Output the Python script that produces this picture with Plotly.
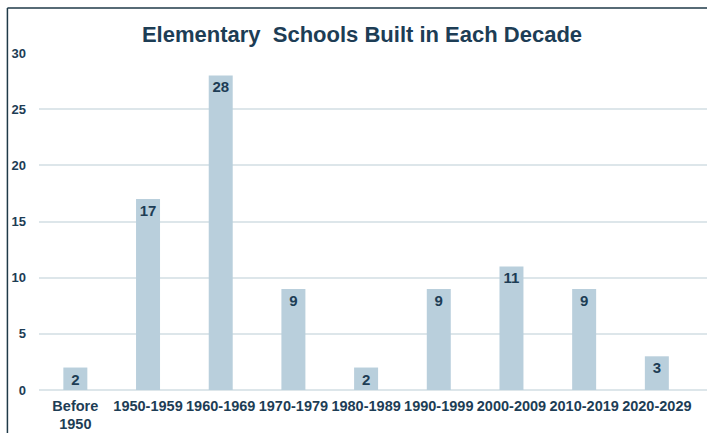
import plotly.graph_objects as go

categories = ["Before<br>1950", "1950-1959", "1960-1969", "1970-1979", "1980-1989",
              "1990-1999", "2000-2009", "2010-2019", "2020-2029"]
schools_built = [2, 17, 28, 9, 2, 9, 11, 9, 3]
y_ticks = [0, 5, 10, 15, 20, 25, 30]

navy = "#1d3d55"
bar_color = "#b9cfdc"

W, H = 707, 433
ml, mr, mt, mb = 38.6, 0, 53, 43
pw = W - ml - mr
ph = H - mt - mb

fig = go.Figure(go.Bar(
    x=list(range(len(categories))),
    y=schools_built,
    text=[str(v) for v in schools_built],
    textposition="inside",
    insidetextanchor="end",
    textangle=0,
    textfont=dict(family="Liberation Sans, Arial", size=15, color=navy, weight="bold"),
    marker=dict(color=bar_color, line=dict(width=0)),
    width=0.33,
    cliponaxis=False,
    hoverinfo="skip",
))

def px_x(p):
    return (p - ml) / pw

def px_y(p):
    return (H - mb - p) / ph

fig.update_layout(
    width=W, height=H,
    margin=dict(l=ml, r=mr, t=mt, b=mb, pad=0),
    paper_bgcolor="white", plot_bgcolor="white",
    showlegend=False,
    uniformtext=dict(minsize=15, mode="show"),
    title=dict(text="<b>Elementary  Schools Built in Each Decade</b>",
               x=362 / W, xanchor="center",
               y=1 - 34 / H, yanchor="middle",
               font=dict(family="Liberation Sans, Arial", size=22, color=navy)),
    xaxis=dict(
        range=[-0.5, 8.69],
        tickvals=list(range(len(categories))),
        ticktext=categories,
        showgrid=False, zeroline=False, showline=False,
        ticks="", ticklabelstandoff=5,
        tickfont=dict(family="Liberation Sans, Arial", size=14.5, color=navy, weight="bold"),
    ),
    yaxis=dict(
        range=[0, 30],
        tickvals=y_ticks,
        showgrid=True, gridcolor="#dde6ea", gridwidth=1.5,
        zeroline=True, zerolinecolor="#dde6ea", zerolinewidth=1.5,
        showline=False, ticks="",
        ticklabelstandoff=12,
        tickfont=dict(family="Liberation Sans, Arial", size=13, color=navy, weight="bold"),
    ),
    shapes=[
        dict(type="line", xref="paper", yref="paper",
             x0=px_x(7), x1=px_x(707), y0=px_y(8), y1=px_y(8),
             line=dict(color="#1f3a48", width=1.5)),
        dict(type="line", xref="paper", yref="paper",
             x0=px_x(7), x1=px_x(7), y0=px_y(8), y1=px_y(433),
             line=dict(color="#1f3a48", width=1.5)),
    ],
)

fig.write_html("out.html",
               config={"displayModeBar": False},
               post_script="document.body.style.margin='0';document.body.style.overflow='hidden';")
